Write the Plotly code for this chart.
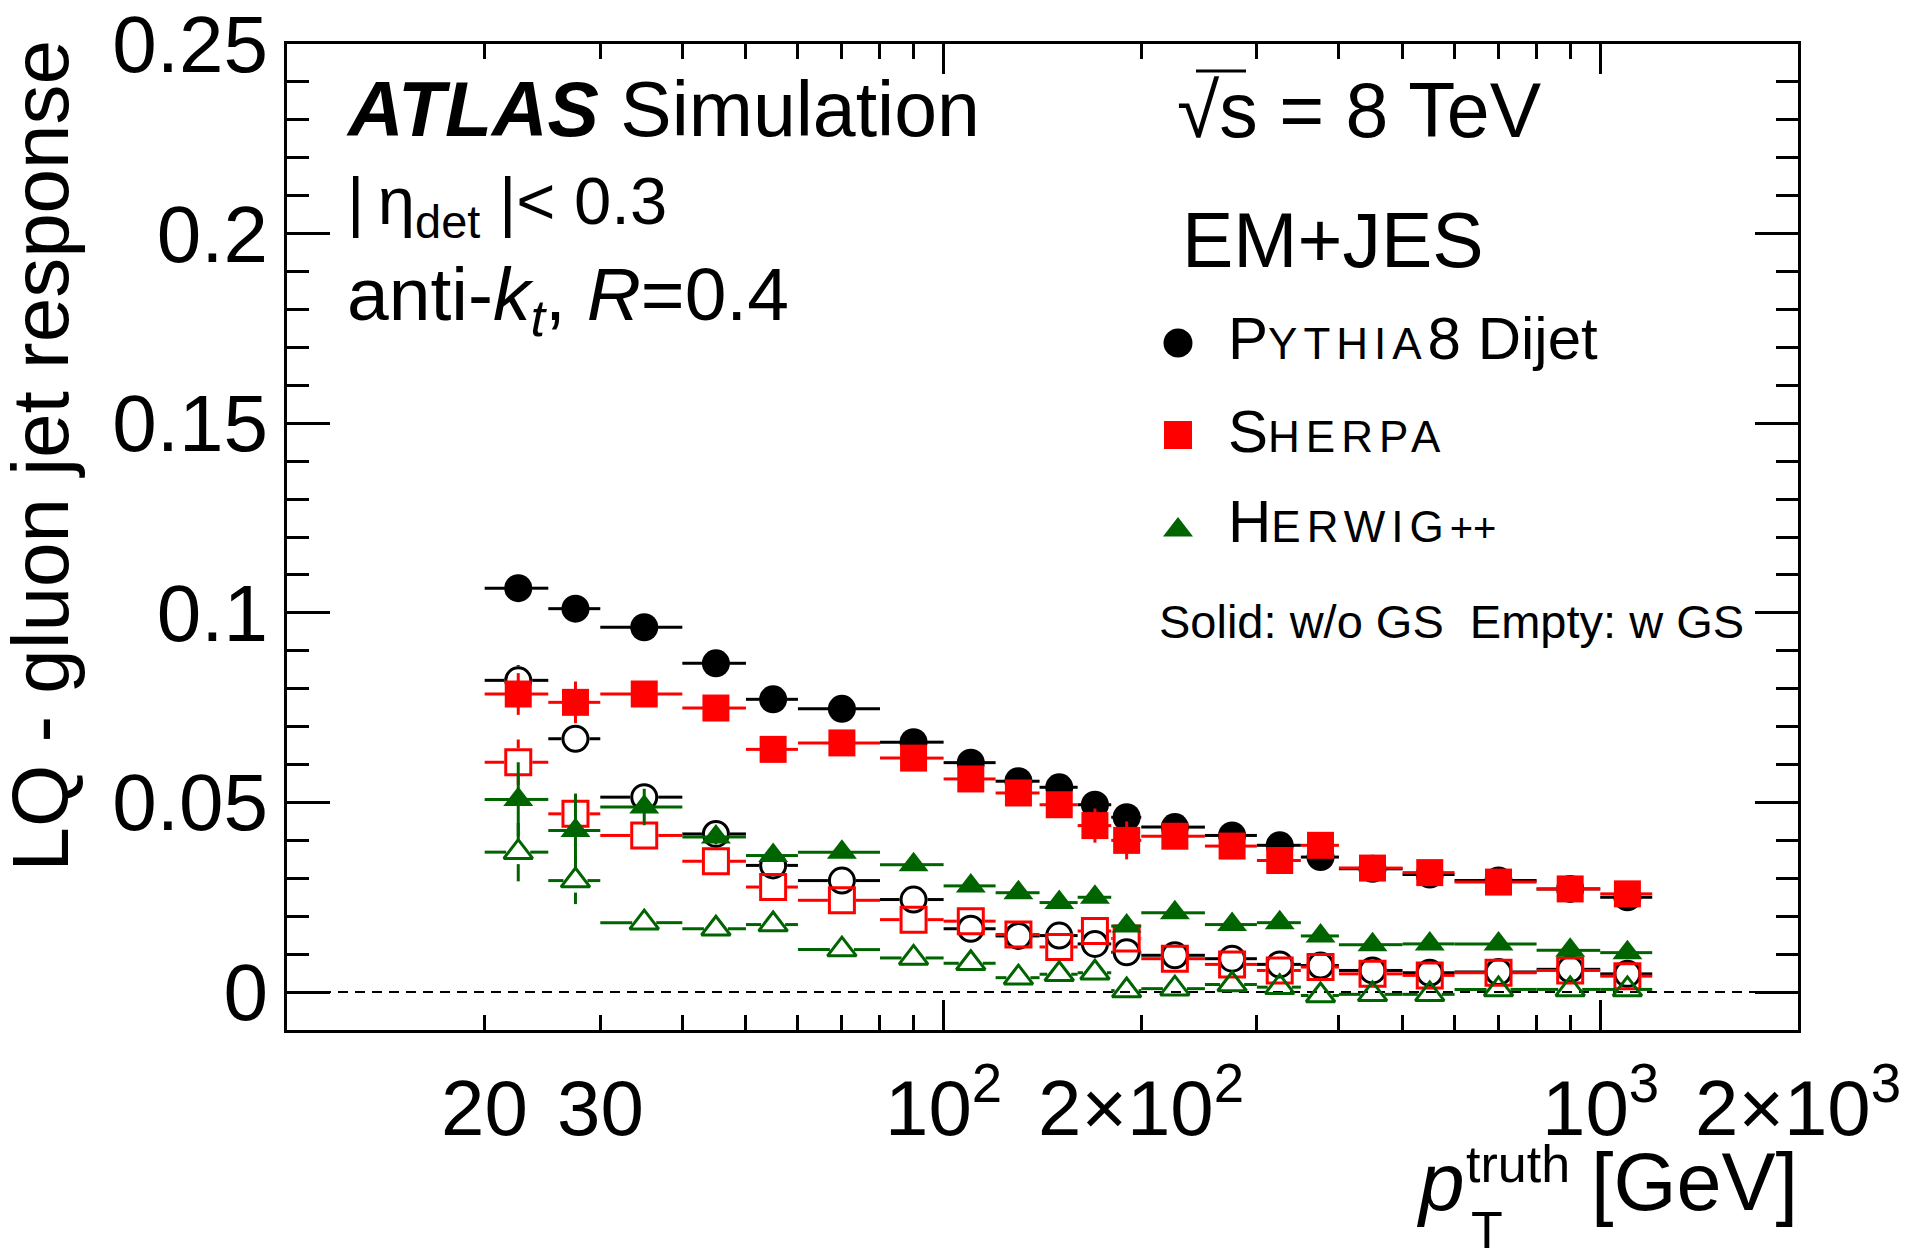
import numpy as np
import plotly.graph_objects as go

# ---------------- data ----------------
pt_low = [20, 25, 30, 40, 50, 60, 80, 100, 120, 140, 160, 180, 200, 250, 300, 350, 400, 500, 600, 800, 1000]
pt_high = [25, 30, 40, 50, 60, 80, 100, 120, 140, 160, 180, 200, 250, 300, 350, 400, 500, 600, 800, 1000, 1200]
pt_center = [22.5, 27.5, 35, 45, 55, 70, 90, 110, 130, 150, 170, 190, 225, 275, 325, 375, 450, 550, 700, 900, 1100]

pythia_solid = [0.1065, 0.1011, 0.0962, 0.0867, 0.0772, 0.0747, 0.0659, 0.0605, 0.0556, 0.0540, 0.0494,
                0.0461, 0.0435, 0.0413, 0.0387, 0.0356, 0.0325, 0.0310, 0.0294, 0.0272, 0.0250]
pythia_solid_err = [0.0035, 0.002, 0.002, 0.002, 0.0015, 0.0015, 0.0015, 0.0015, 0.0015, 0.0015, 0.0015,
                    0.0015, 0.0015, 0.0015, 0.0015, 0.0015, 0.0015, 0.0015, 0.0015, 0.0015, 0.0015]
pythia_open = [0.0822, 0.0668, 0.0514, 0.0417, 0.0334, 0.0294, 0.0244, 0.0167, 0.0148, 0.0149, 0.0127,
               0.0105, 0.0097, 0.0088, 0.0073, 0.0070, 0.0057, 0.0051, 0.0053, 0.0060, 0.0048]
pythia_open_err = [0.004, 0.002, 0.002, 0.0015, 0.0015, 0.0015, 0.0015, 0.0015, 0.0015, 0.0015, 0.0015,
                   0.0015, 0.0015, 0.0015, 0.0015, 0.0015, 0.0015, 0.0015, 0.0015, 0.0015, 0.0015]
sherpa_solid = [0.0786, 0.0764, 0.0786, 0.0749, 0.0640, 0.0657, 0.0617, 0.0562, 0.0525, 0.0494, 0.0439,
                0.0400, 0.0411, 0.0385, 0.0347, 0.0387, 0.0327, 0.0315, 0.0290, 0.0272, 0.0259]
sherpa_solid_err = [0.0055, 0.0055, 0.002, 0.002, 0.0015, 0.0015, 0.0015, 0.0015, 0.0015, 0.0015, 0.0045,
                    0.005, 0.0015, 0.0015, 0.0015, 0.0015, 0.0015, 0.0015, 0.0015, 0.0015, 0.0015]
sherpa_open = [0.0606, 0.0470, 0.0413, 0.0345, 0.0277, 0.0242, 0.0191, 0.0187, 0.0152, 0.0119, 0.0161,
               0.0141, 0.0088, 0.0073, 0.0057, 0.0066, 0.0048, 0.0044, 0.0051, 0.0057, 0.0042]
sherpa_open_err = [0.006, 0.0053, 0.002, 0.002, 0.0015, 0.0015, 0.0015, 0.0015, 0.0015, 0.0015, 0.0015,
                   0.0015, 0.0015, 0.0015, 0.0015, 0.0015, 0.0015, 0.0015, 0.0015, 0.0015, 0.0015]
herwig_solid = [0.0508, 0.0426, 0.0488, 0.0409, 0.0360, 0.0369, 0.0336, 0.0280, 0.0262, 0.0236, 0.0250,
                0.0174, 0.0209, 0.0178, 0.0183, 0.0148, 0.0125, 0.0127, 0.0127, 0.0110, 0.0104]
herwig_solid_err = [0.0098, 0.0097, 0.0048, 0.002, 0.0015, 0.0015, 0.0015, 0.0015, 0.0015, 0.0015, 0.0015,
                    0.0015, 0.0015, 0.0015, 0.0015, 0.0015, 0.0015, 0.0015, 0.0015, 0.0015, 0.0015]
herwig_open = [0.0369, 0.0294, 0.0183, 0.0167, 0.0178, 0.0112, 0.0090, 0.0076, 0.0038, 0.0047, 0.0051,
               0.0004, 0.0009, 0.0020, 0.0013, -0.0009, -0.0006, -0.0006, 0.0007, 0.0007, 0.0007]
herwig_open_err = [0.0077, 0.0062, 0.002, 0.002, 0.0015, 0.0015, 0.0015, 0.0015, 0.0015, 0.0015, 0.0015,
                   0.0015, 0.0015, 0.0015, 0.0015, 0.0015, 0.0015, 0.0015, 0.0015, 0.0015, 0.0015]

x_tick_vals = [20, 30, 40, 50, 60, 70, 80, 90, 100, 200, 300, 400, 500, 600, 700, 800, 900, 1000, 2000]
x_label_vals = [20, 30, 100, 200, 1000, 2000]
x_label_text = ["20", "30", "10<sup>2</sup>", "2×10<sup>2</sup>", "10<sup>3</sup>", "2×10<sup>3</sup>"]
x_major_vals = [100, 1000]

# ---------------- geometry / style ----------------
OFF = 8                      # default page margin of the html body
FIG_W, FIG_H = 1907, 1248
PLOT_X0, PLOT_X1 = 287, 1798  # plot area, page pixels
PLOT_Y0, PLOT_Y1 = 44, 1030
M_L, M_T = PLOT_X0 - OFF, PLOT_Y0 - OFF
M_R, M_B = FIG_W + OFF - PLOT_X1, FIG_H + OFF - PLOT_Y1
PLOT_W = PLOT_X1 - PLOT_X0
PLOT_H = PLOT_Y1 - PLOT_Y0
X_RANGE = [1.0, 3.3012]
Y_RANGE = [-0.01, 0.25]
FONT = "Liberation Sans, Arial, Helvetica, sans-serif"
BLACK, RED, GREEN = "#000000", "#ff0000", "#006400"
LW = 3


def err_segments(xc, xl, xh, y, e, gap_px):
    dec_per_px = (X_RANGE[1] - X_RANGE[0]) / PLOT_W
    unit_per_px = (Y_RANGE[1] - Y_RANGE[0]) / PLOT_H
    gx = gap_px * dec_per_px
    gy = gap_px * unit_per_px
    xs, ys = [], []
    for c, lo, hi, v, ev in zip(xc, xl, xh, y, e):
        le = c * 10 ** (-gx)
        rs = c * 10 ** (gx)
        if le > lo:
            xs += [lo, le, None]
            ys += [v, v, None]
        if rs < hi:
            xs += [rs, hi, None]
            ys += [v, v, None]
        if ev > gy:
            xs += [c, c, None, c, c, None]
            ys += [v - ev, v - gy, None, v + gy, v + ev, None]
    return xs, ys


fig = go.Figure()

series = [
    (pythia_solid, pythia_solid_err, "circle", 28, BLACK, False, 0),
    (pythia_open, pythia_open_err, "circle-open", 25, BLACK, True, 14),
    (sherpa_solid, sherpa_solid_err, "square", 27, RED, False, 0),
    (sherpa_open, sherpa_open_err, "square-open", 25, RED, True, 14),
    (herwig_solid, herwig_solid_err, "triangle-up", 26, GREEN, False, 0),
    (herwig_open, herwig_open_err, "triangle-up-open", 25, GREEN, True, 12),
]

for vals, errs, sym, size, col, is_open, gap in series:
    ex, ey = err_segments(pt_center, pt_low, pt_high, vals, errs, gap)
    fig.add_trace(go.Scatter(x=ex, y=ey, mode="lines", line=dict(color=col, width=LW),
                             hoverinfo="skip", showlegend=False, cliponaxis=True))
    mk = dict(symbol=sym, size=size, color=col)
    mk["line"] = dict(color=col, width=LW if is_open else 0)
    fig.add_trace(go.Scatter(x=pt_center, y=vals, mode="markers", marker=mk, showlegend=False,
                             cliponaxis=False))


def px_x(fx):
    return (fx - PLOT_X0) / PLOT_W


def px_y(fy):
    return (PLOT_Y1 - fy) / PLOT_H


# legend markers on a hidden overlay (paper-like) axis pair
leg_x = px_x(1178)
leg_y = [px_y(343), px_y(435), px_y(530)]
for (yy, sym, col, sz) in zip(leg_y, ["circle", "square", "triangle-up"], [BLACK, RED, GREEN], [29, 28, 26]):
    fig.add_trace(go.Scatter(x=[leg_x], y=[yy], xaxis="x3", yaxis="y3", mode="markers",
                             marker=dict(symbol=sym, size=sz, color=col, line=dict(width=0)),
                             showlegend=False, cliponaxis=False, hoverinfo="skip"))

annotations = []


def ann(text, fx, baseline, size, xanchor="left", **kw):
    annotations.append(dict(text=text, x=px_x(fx), y=px_y(baseline - 0.905 * size), xref="paper",
                            yref="paper", xanchor=xanchor, yanchor="top", showarrow=False,
                            font=dict(family=FONT, size=size, color="black"), **kw))


ann("<b><i>ATLAS</i></b> Simulation", 344, 134, 77)
ann("|\u2009η<sub>det</sub> |< 0.3", 345, 222, 67)
ann("anti-<i>k</i><sub><i>t</i></sub>, <i>R</i>=0.4", 345, 318, 75)
ann("√s = 8 TeV", 1175, 135, 77)
ann("EM+JES", 1180, 265, 77)
SC = "font-size:44px;letter-spacing:6px"
ann("P<span style='%s'>YTHIA</span>8 Dijet" % SC, 1226, 357, 60)
ann("S<span style='%s'>HERPA</span>" % SC, 1226, 450, 60)
ann("H<span style='%s'>ERWIG</span><span style='font-size:40px'>++</span>" % SC, 1226, 540, 60)
ann("Solid: w/o GS\u00a0\u00a0Empty: w GS", 1157, 636, 47)
# x-axis title
ann("<i>p</i>", 1414, 1208, 82)
ann("truth", 1464, 1180, 52)
ann("T", 1469, 1246, 52)
ann("[GeV]", 1800, 1208, 81, xanchor="right")
# y-axis title
annotations.append(dict(text="LQ - gluon jet response", x=px_x(86), y=px_y(38), xref="paper", yref="paper",
                        xanchor="right", yanchor="top", textangle=-90, showarrow=False,
                        font=dict(family=FONT, size=80, color="black")))
# x tick labels (placed on the log axis at the tick values)
XL_SIZE = 78
XL_BASE = 1137
for v, t in zip(x_label_vals, x_label_text):
    annotations.append(dict(text=t, x=np.log10(v), xref="x", y=px_y(XL_BASE + 0.212 * XL_SIZE), yref="paper",
                            xanchor="center", yanchor="bottom", showarrow=False,
                            font=dict(family=FONT, size=XL_SIZE, color="black")))

shapes = [
    dict(type="line", xref="paper", x0=0, x1=1, yref="y", y0=0, y1=0, layer="below",
         line=dict(color="black", width=2, dash="10px,7px")),
    # overline of the square root
    dict(type="line", xref="paper", yref="paper", x0=px_x(1196), x1=px_x(1246), y0=px_y(71), y1=px_y(71),
         line=dict(color="black", width=3)),
]

axis_common = dict(showgrid=False, zeroline=False, ticks="inside", tickcolor="black", tickwidth=LW,
                   showline=True, linecolor="black", linewidth=3, mirror="ticks")

fig.update_layout(
    width=FIG_W, height=FIG_H,
    margin=dict(l=M_L, r=M_R, t=M_T, b=M_B, autoexpand=False),
    paper_bgcolor="white", plot_bgcolor="white",
    showlegend=False,
    font=dict(family=FONT, color="black"),
    xaxis=dict(type="log", range=X_RANGE, tickmode="array", tickvals=x_tick_vals,
               ticklen=15, showticklabels=False, **axis_common),
    xaxis2=dict(type="log", range=X_RANGE, overlaying="x", anchor="y", tickmode="array",
                tickvals=x_major_vals, ticklen=30, showticklabels=False, **axis_common),
    yaxis=dict(range=Y_RANGE, tick0=0, dtick=0.05, ticklen=43, tickfont=dict(family=FONT, size=80),
               ticklabelstandoff=0, ticklabeloverflow="allow",
               minor=dict(dtick=0.01, tick0=0, ticklen=22, ticks="inside", tickcolor="black", tickwidth=LW),
               **axis_common),
    xaxis3=dict(overlaying="x", anchor="y3", range=[0, 1], visible=False),
    yaxis3=dict(overlaying="y", anchor="x3", range=[0, 1], visible=False),
    annotations=annotations,
    shapes=shapes,
)

# a dummy trace so the x2 overlay gets drawn
fig.add_trace(go.Scatter(x=[pt_center[0]], y=[None], xaxis="x2", yaxis="y", mode="markers",
                         showlegend=False, hoverinfo="skip"))

fig.write_html("out.html")
